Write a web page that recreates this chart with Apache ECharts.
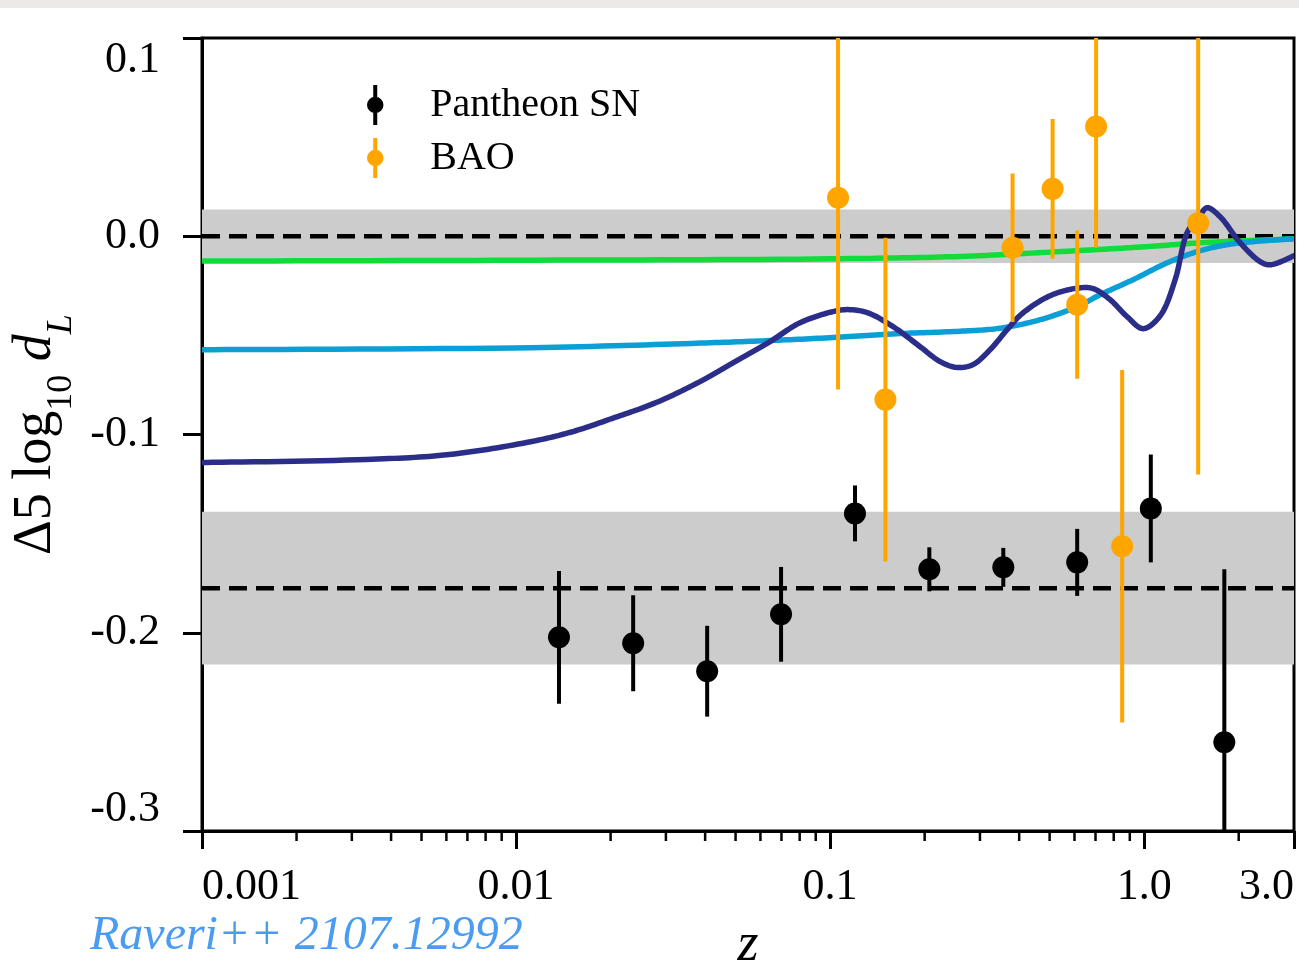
<!DOCTYPE html>
<html><head><meta charset="utf-8">
<script src="https://cdn.jsdelivr.net/npm/echarts@6/dist/echarts.min.js"></script>
<style>html,body{margin:0;padding:0;background:#fff}#c{width:1299px;height:978px}</style>
</head><body><div id="c"></div><script>
// ---- axis ticks ----
const xTickValues = [0.001, 0.01, 0.1, 1, 3];
const xTickLabels = ['0.001', '0.01', '0.1', '1.0', '3.0'];
const xMinorTicks = [0.002,0.003,0.004,0.005,0.006,0.007,0.008,0.009,
                     0.02,0.03,0.04,0.05,0.06,0.07,0.08,0.09,
                     0.2,0.3,0.4,0.5,0.6,0.7,0.8,0.9,
                     2];
const yTickValues = [-0.3, -0.2, -0.1, 0.0, 0.1];
const yTickLabels = ['-0.3', '-0.2', '-0.1', '0.0', '0.1'];

// ---- Pantheon SN ----
const snZ   = [0.0137, 0.0236, 0.0406, 0.0698, 0.120, 0.207, 0.356, 0.612, 1.05, 1.80];
const snVal = [-0.2023, -0.2053, -0.2194, -0.1907, -0.1398, -0.1680, -0.1670, -0.1645, -0.1373, -0.2552];
const snErr = [0.0335, 0.0242, 0.0229, 0.0239, 0.0141, 0.0111, 0.0098, 0.0169, 0.0272, 0.0872];

// ---- BAO ----
const baoZ   = [0.106, 0.150, 0.381, 0.511, 0.612, 0.703, 0.851, 1.486];
const baoVal = [0.0194, -0.0824, -0.0058, 0.0239, -0.0345, 0.0554, -0.1564, 0.0065];
const baoErr = [0.0967, 0.0816, 0.0375, 0.0353, 0.0374, 0.0612, 0.0889, 0.1267];

// ---- model curves ----
const navyZ   = [0.001, 0.00333, 0.00612, 0.01124, 0.01519, 0.02066, 0.02792, 0.03855, 0.04983, 0.0644, 0.08025, 0.1022, 0.1133, 0.1312, 0.1587, 0.1935, 0.224, 0.2538, 0.2853, 0.3233, 0.3663, 0.4089, 0.5019, 0.6118, 0.688, 0.7794, 0.8829, 0.9927, 1.1247, 1.2552, 1.3705, 1.5082, 1.5873, 1.7459, 2.0219, 2.3404, 2.5193, 3.0];
const navyVal = [-0.1141, -0.1126, -0.1101, -0.1035, -0.0985, -0.0914, -0.0839, -0.0733, -0.0632, -0.0531, -0.0436, -0.0380, -0.0370, -0.0385, -0.0456, -0.0557, -0.0632, -0.0662, -0.0647, -0.0572, -0.0471, -0.0390, -0.0300, -0.0262, -0.0264, -0.0320, -0.0406, -0.0466, -0.0401, -0.0219, 0.0018, 0.0108, 0.0144, 0.0098, -0.0033, -0.0128, -0.0144, -0.0098];
const blueZ   = [0.001, 0.01124, 0.03855, 0.0644, 0.1022, 0.1671, 0.2594, 0.3478, 0.4665, 0.6118, 0.7241, 0.9226, 1.1838, 1.5082, 1.9204, 3.0];
const blueVal = [-0.0572, -0.0562, -0.0539, -0.0526, -0.0511, -0.0491, -0.0479, -0.0464, -0.0421, -0.0355, -0.0295, -0.0219, -0.0134, -0.0073, -0.0038, -0.0013];
const greenZ   = [0.001, 0.01, 0.1, 0.26, 0.38, 0.85, 1.12, 1.51, 3.0];
const greenVal = [-0.0125, -0.0121, -0.0114, -0.0102, -0.0090, -0.0060, -0.0048, -0.0033, -0.0013];

// ---- bands and reference lines ----
const bandLow  = [-0.0135, -0.216];
const bandHigh = [ 0.0135, -0.139];
const refLines = [0.0, -0.1775];

const X_MIN = 0.001, X_MAX = 3.0, Y_MIN = -0.3, Y_MAX = 0.1;
const SERIF = "'Liberation Serif', 'DejaVu Serif', serif";

const chart = echarts.init(document.getElementById('c'), null, {renderer: 'canvas'});

// centripetal Catmull-Rom through pixel points (rendering only)
function crSpline(pts, seg) {
  const out = [];
  const n = pts.length;
  const d = (a, b) => Math.max(Math.pow(Math.hypot(b[0] - a[0], b[1] - a[1]), 0.5), 1e-4);
  for (let i = 0; i < n - 1; i++) {
    const p0 = pts[Math.max(i - 1, 0)], p1 = pts[i], p2 = pts[i + 1], p3 = pts[Math.min(i + 2, n - 1)];
    const t0 = 0, t1 = t0 + d(p0, p1), t2 = t1 + d(p1, p2), t3 = t2 + d(p2, p3);
    for (let k = 0; k < seg; k++) {
      const t = t1 + (t2 - t1) * k / seg;
      const L = (a, b, ta, tb) => {
        const u = (t - ta) / (tb - ta);
        return [a[0] + (b[0] - a[0]) * u, a[1] + (b[1] - a[1]) * u];
      };
      const A1 = L(p0, p1, t0, t1), A2 = L(p1, p2, t1, t2), A3 = L(p2, p3, t2, t3);
      const B1 = L(A1, A2, t0, t2), B2 = L(A2, A3, t1, t3);
      out.push(L(B1, B2, t1, t2));
    }
  }
  out.push(pts[n - 1]);
  return out;
}

function curve(name, zs, vs, color) {
  return {
    type: 'custom', name: name, z: 4, silent: true, clip: true,
    data: zs.map((z, i) => [z, vs[i]]),
    encode: {x: 0, y: 1},
    renderItem: (params, api) => {
      if (params.dataIndex !== 0) return null;
      const pts = zs.map((z, i) => api.coord([z, vs[i]]));
      return {type: 'polyline', shape: {points: crSpline(pts, 16)},
              style: {stroke: color, lineWidth: 5.5, fill: null, lineJoin: 'round', lineCap: 'round'}};
    }
  };
}

function errSeries(name, zs, vs, es, color, width) {
  return {
    type: 'custom', name: name, z: 6, silent: true, clip: true,
    data: zs.map((z, i) => [z, vs[i] - es[i], vs[i] + es[i]]),
    encode: {x: 0, y: [1, 2]},
    renderItem: (params, api) => {
      const cs = params.coordSys;
      const lo = api.coord([api.value(0), api.value(1)]);
      const hi = api.coord([api.value(0), api.value(2)]);
      const y1 = Math.min(Math.max(lo[1], cs.y), cs.y + cs.height);
      const y2 = Math.min(Math.max(hi[1], cs.y), cs.y + cs.height);
      return {type: 'line', shape: {x1: lo[0], y1: y1, x2: hi[0], y2: y2},
              style: {stroke: color, lineWidth: width}};
    }
  };
}
const legendIcon = 'path://M5.3,0 H8.7 V34 H5.3 Z M0,17 A7,7 0 1,1 14,17 A7,7 0 1,1 0,17 Z';

const option = {
  animation: false,
  backgroundColor: '#ffffff',
  grid: {left: 202, right: 5, top: 38, bottom: 146, containLabel: false,
         show: true, borderColor: '#000', borderWidth: 3, backgroundColor: 'transparent'},
  legend: {
    orient: 'vertical', left: 362, top: 80, itemWidth: 32, itemHeight: 40, itemGap: 13,
    selectedMode: false,
    textStyle: {fontFamily: SERIF, fontSize: 40, color: '#000', padding: [0, 0, 0, 34]},
    data: [{name: 'Pantheon SN', icon: legendIcon}, {name: 'BAO', icon: legendIcon}]
  },
  xAxis: {
    type: 'log', logBase: 10, min: X_MIN, max: X_MAX,
    name: 'z', nameLocation: 'middle', nameGap: 88,
    nameTextStyle: {fontFamily: SERIF, fontStyle: 'italic', fontSize: 54, color: '#000'},
    axisLine: {show: true, onZero: false, lineStyle: {color: '#000', width: 3}},
    axisTick: {show: true, inside: false, length: 18, lineStyle: {color: '#000', width: 3}},
    minorTick: {show: false},
    splitLine: {show: false},
    axisLabel: {
      margin: 34, fontFamily: SERIF, fontSize: 44, color: '#000',
      showMinLabel: true, showMaxLabel: true,
      alignMinLabel: 'left', alignMaxLabel: 'right',
      formatter: v => {
        for (let i = 0; i < xTickValues.length; i++) {
          if (Math.abs(Math.log10(v) - Math.log10(xTickValues[i])) < 1e-6) return xTickLabels[i];
        }
        return '';
      }
    }
  },
  yAxis: {
    type: 'value', min: Y_MIN, max: Y_MAX, interval: 0.1,
    name: '{a|Δ5 log}{s|10}{a| }{i|d}{si|L}',
    nameLocation: 'middle', nameRotate: 90, nameGap: 118,
    nameTextStyle: {
      rich: {
        a: {fontFamily: SERIF, fontSize: 54, color: '#000', lineHeight: 60, verticalAlign: 'middle'},
        s: {fontFamily: SERIF, fontSize: 36, color: '#000', lineHeight: 36, verticalAlign: 'bottom', padding: [0, 0, -14, 0]},
        i: {fontFamily: SERIF, fontStyle: 'italic', fontSize: 54, color: '#000', lineHeight: 60, verticalAlign: 'middle'},
        si: {fontFamily: SERIF, fontStyle: 'italic', fontSize: 36, color: '#000', lineHeight: 36, verticalAlign: 'bottom', padding: [0, 0, -14, 0]}
      }
    },
    axisLine: {show: true, onZero: false, lineStyle: {color: '#000', width: 3}},
    axisTick: {show: true, inside: false, length: 19, lineStyle: {color: '#000', width: 3}},
    splitLine: {show: false},
    axisLabel: {
      margin: 42, fontFamily: SERIF, fontSize: 44, color: '#000',
      showMinLabel: true, showMaxLabel: true,
      verticalAlignMinLabel: 'bottom', verticalAlignMaxLabel: 'top',
      formatter: v => {
        const idx = Math.round(v * 10) + 3;
        return yTickLabels[idx] !== undefined ? yTickLabels[idx] : '';
      }
    }
  },
  graphic: [
    {type: 'rect', left: 0, top: 0, z: 100, shape: {width: 1299, height: 8}, style: {fill: '#ebeae6'}},
    {type: 'text', left: 90, top: 912, z: 100,
     style: {text: 'Raveri++ 2107.12992', font: "italic 48px 'Liberation Serif', serif", fill: '#4a9cf2'}}
  ],
  series: [
    {
      type: 'custom', name: 'bands', z: 1, silent: true,
      data: bandLow.map((lo, i) => [X_MIN, lo, bandHigh[i]]),
      encode: {x: 0, y: [1, 2]},
      renderItem: (params, api) => {
        const cs = params.coordSys;
        const a = api.coord([api.value(0), api.value(1)]);
        const b = api.coord([api.value(0), api.value(2)]);
        return {type: 'rect', shape: {x: cs.x, y: b[1], width: cs.width, height: a[1] - b[1]},
                style: {fill: '#cccccc'}};
      }
    },
    {
      type: 'custom', name: 'ref', z: 2, silent: true,
      data: refLines.map(v => [X_MIN, v]),
      encode: {x: 0, y: 1},
      renderItem: (params, api) => {
        const cs = params.coordSys;
        const p = api.coord([api.value(0), api.value(1)]);
        return {type: 'line', shape: {x1: cs.x, y1: p[1], x2: cs.x + cs.width, y2: p[1]},
                style: {stroke: '#000', lineWidth: 4.5, lineDash: [18, 9]}};
      }
    },
    {
      type: 'custom', name: 'minor', z: 3, silent: true, clip: false,
      data: xMinorTicks.map(v => [v, Y_MIN]),
      encode: {x: 0, y: 1},
      renderItem: (params, api) => {
        const p = api.coord([api.value(0), api.value(1)]);
        return {type: 'line', shape: {x1: p[0], y1: p[1], x2: p[0], y2: p[1] + 10},
                style: {stroke: '#000', lineWidth: 2.5}};
      }
    },
    curve('green', greenZ, greenVal, '#12dc3b'),
    curve('blue', blueZ, blueVal, '#0b9fd6'),
    curve('navy', navyZ, navyVal, '#2b2e88'),
    errSeries('sn_err', snZ, snVal, snErr, '#000000', 4),
    errSeries('bao_err', baoZ, baoVal, baoErr, '#ffa500', 4),
    {type: 'scatter', name: 'Pantheon SN', z: 7, symbol: 'circle', symbolSize: 22,
     data: snZ.map((z, i) => [z, snVal[i]]), itemStyle: {color: '#000000', opacity: 1}},
    {type: 'scatter', name: 'BAO', z: 7, symbol: 'circle', symbolSize: 22,
     data: baoZ.map((z, i) => [z, baoVal[i]]), itemStyle: {color: '#ffa500', opacity: 1}}
  ]
};
chart.setOption(option);
</script></body></html>
